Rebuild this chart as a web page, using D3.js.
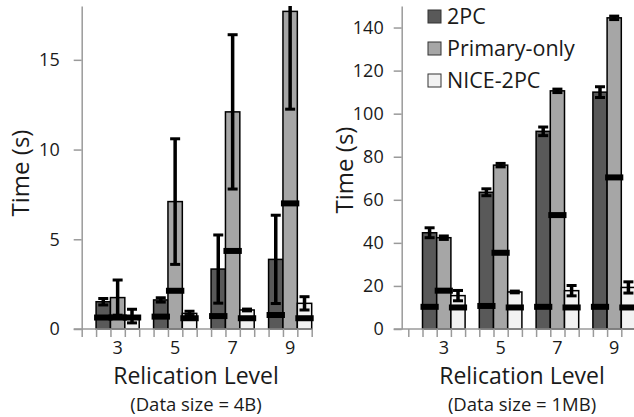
<!DOCTYPE html>
<html>
<head>
<meta charset="utf-8">
<script src="https://cdn.jsdelivr.net/npm/d3@7"></script>
<style>
body{margin:0;background:#fff;}
text{font-family:"Open Sans",sans-serif;fill:#1a1a1a;}
.axis path,.axis line{stroke:#9a9a9a;stroke-width:1.5;}
</style>
</head>
<body>
<script>
// categories
const levels = ["3","5","7","9"];
const seriesNames = ["2PC","Primary-only","NICE-2PC"];
const colors = ["#595959","#a6a6a6","#f2f2f2"];

// Data size = 4B  (mean, error half-width, thick marker)
const twoPC4B = [1.52, 1.62, 3.34, 3.88];
const twoPC4BErr = [0.18, 0.12, 1.9, 2.46];
const twoPC4BMark = [0.64, 0.69, 0.72, 0.78];
const primary4B = [1.75, 7.1, 12.1, 17.7];
const primary4BErr = [0.98, 3.5, 4.3, 5.45];
const primary4BMark = [0.64, 2.13, 4.35, 7.0];
const nice4B = [0.72, 0.87, 1.06, 1.43];
const nice4BErr = [0.38, 0.12, 0.05, 0.37];
const nice4BMark = [0.64, 0.6, 0.6, 0.6];

// Data size = 1MB
const twoPC1MB = [44.7, 63.5, 91.8, 110];
const twoPC1MBErr = [2.3, 1.6, 2.0, 2.5];
const twoPC1MBMark = [10.3, 10.7, 10.3, 10.3];
const primary1MB = [42.4, 76.1, 110.6, 144.5];
const primary1MBErr = [0.8, 0.8, 0.8, 0.8];
const primary1MBMark = [17.8, 35.4, 52.9, 70.4];
const nice1MB = [15.5, 17.2, 17.8, 19.3];
const nice1MBErr = [2.4, 0.4, 2.4, 2.6];
const nice1MBMark = [10, 10, 10, 10];

// tick labels
const yTicks4B = [0, 5, 10, 15];
const yTicks1MB = [0, 20, 40, 60, 80, 100, 120, 140];

const width = 634, height = 417;
const svg = d3.select("body").append("svg")
	.attr("width", width)
	.attr("height", height);

function rows(vals, errs, marks){
	//one row per bar: series x level
	let out = [];
	seriesNames.forEach(function(s, i){
		levels.forEach(function(l, j){
			out.push({series:s, idx:i, level:l, value:vals[i][j], err:errs[i][j], mark:marks[i][j]});
		});
	});
	return out;
}

function drawPanel(cfg){
	const yBottom = 329, yTop = 6;
	const y = d3.scaleLinear().domain([0, cfg.yMax]).range([yBottom, yTop]);
	const x0 = d3.scaleBand().domain(levels)
		.range([cfg.slotStart, cfg.slotStart + 16*cfg.slotW]);
	const x1 = d3.scaleBand().domain(["gap"].concat(seriesNames))
		.range([0, x0.bandwidth()]);
	const slots = d3.scaleLinear().domain([0,16]).range(x0.range());
	const g = svg.append("g");

	//bars
	g.selectAll(".bar")
		.data(cfg.data)
		.enter().append("rect")
			.attr("class","bar")
			.attr("x", d => x0(d.level) + x1(d.series))
			.attr("width", x1.bandwidth())
			.attr("y", d => y(d.value))
			.attr("height", d => y(0) - y(d.value))
			.attr("fill", d => colors[d.idx])
			.attr("stroke", "#000")
			.attr("stroke-width", 1.5);

	//x axis line + slot ticks
	g.append("line")
		.attr("x1", cfg.axisX - 8).attr("x2", slots.range()[1])
		.attr("y1", y(0)).attr("y2", y(0))
		.attr("stroke", "#9a9a9a").attr("stroke-width", 1.5);
	g.append("g")
		.attr("class","axis")
		.attr("transform","translate(0,"+y(0)+")")
		.call(d3.axisBottom(slots).tickValues(d3.range(17)).tickFormat("").tickSize(8).tickSizeOuter(0))
		.select(".domain").remove();

	//category labels, centred on the middle bar
	let lab = g.append("g")
		.attr("transform","translate("+(x1.bandwidth()/2)+","+y(0)+")")
		.call(d3.axisBottom(x0).tickSize(0).tickPadding(12));
	lab.select(".domain").remove();
	lab.selectAll("text").style("font-size","18px").style("font-family","Open Sans");

	//y axis
	let ya = g.append("g")
		.attr("class","axis")
		.attr("transform","translate("+cfg.axisX+",0)")
		.call(d3.axisLeft(y).tickValues(cfg.ticks).tickSize(8).tickSizeOuter(0).tickPadding(cfg.pad));
	ya.selectAll("text").style("font-size","18px").style("font-family","Open Sans");

	//thick markers
	g.selectAll(".mark")
		.data(cfg.data)
		.enter().append("rect")
			.attr("x", d => x0(d.level) + x1(d.series) - 2)
			.attr("width", x1.bandwidth() + 4)
			.attr("y", d => y(d.mark) - 3)
			.attr("height", 6)
			.attr("fill", "#000");

	//error bars
	const clip = v => Math.max(0, Math.min(cfg.yMax, v));
	const cx = d => x0(d.level) + x1(d.series) + x1.bandwidth()/2;
	g.selectAll(".err")
		.data(cfg.data)
		.enter().append("line")
			.attr("x1", cx).attr("x2", cx)
			.attr("y1", d => y(clip(d.value - d.err)))
			.attr("y2", d => y(clip(d.value + d.err)))
			.attr("stroke", "#000").attr("stroke-width", 3.5);
	let caps = [];
	cfg.data.forEach(function(d){
		if (d.value + d.err <= cfg.yMax) caps.push({d:d, v:d.value + d.err});
		if (d.value - d.err >= 0) caps.push({d:d, v:d.value - d.err});
	});
	g.selectAll(".cap")
		.data(caps)
		.enter().append("rect")
			.attr("x", c => cx(c.d) - 5)
			.attr("width", 10)
			.attr("y", c => y(c.v) - 1.5)
			.attr("height", 3)
			.attr("fill", "#000");

	//titles
	g.append("text")
		.attr("transform","translate("+cfg.titleX+","+cfg.titleY+") rotate(-90)")
		.attr("text-anchor","middle")
		.attr("dy","0.35em")
		.style("font-size","24px")
		.text("Time (s)");
	g.append("text")
		.attr("x", cfg.labelX).attr("y", 384)
		.attr("text-anchor","middle")
		.style("font-size","23px")
		.text("Relication Level");
	g.append("text")
		.attr("x", cfg.labelX).attr("y", 411)
		.attr("text-anchor","middle")
		.style("font-size","18.5px")
		.text(cfg.note);
}

drawPanel({
	data: rows([twoPC4B, primary4B, nice4B], [twoPC4BErr, primary4BErr, nice4BErr], [twoPC4BMark, primary4BMark, nice4BMark]),
	yMax: 18, ticks: yTicks4B, pad: 14,
	axisX: 81.7, slotStart: 81.7, slotW: 14.375,
	titleX: 21, titleY: 173, labelX: 196, note: "(Data size = 4B)"
});
drawPanel({
	data: rows([twoPC1MB, primary1MB, nice1MB], [twoPC1MBErr, primary1MBErr, nice1MBErr], [twoPC1MBMark, primary1MBMark, nice1MBMark]),
	yMax: 150, ticks: yTicks1MB, pad: 10,
	axisX: 401.7, slotStart: 408.3, slotW: 14.2,
	titleX: 345, titleY: 170, labelX: 522, note: "(Data size = 1MB)"
});

//legend
const legend = svg.append("g").attr("transform","translate(428,10)");
legend.selectAll("rect")
	.data(seriesNames)
	.enter().append("rect")
		.attr("x", 0).attr("y", (d,i) => i*32)
		.attr("width", 13).attr("height", 13)
		.attr("fill", (d,i) => colors[i])
		.attr("stroke", "#333").attr("stroke-width", 1);
legend.selectAll("text")
	.data(seriesNames)
	.enter().append("text")
		.attr("x", 19).attr("y", (d,i) => i*32 + 6.5)
		.attr("dy","0.35em")
		.style("font-size","21.5px")
		.text(d => d);
</script>
</body>
</html>
